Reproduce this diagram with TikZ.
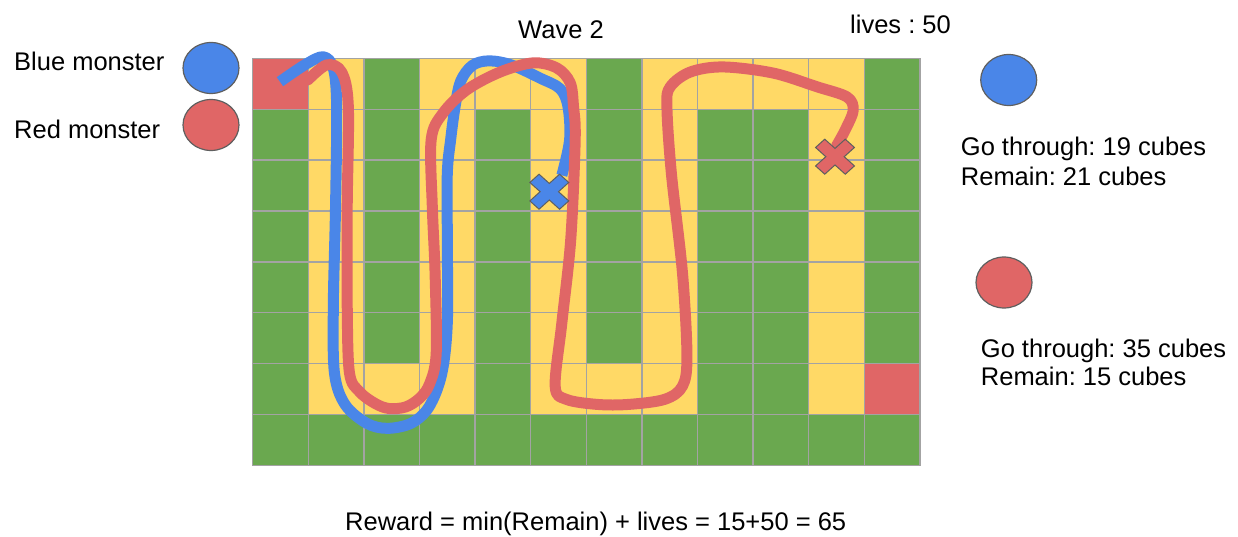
\documentclass[tikz,border=0pt]{standalone}
\usepackage{fontspec}
\setmainfont{Liberation Sans}
\frenchspacing
\usetikzlibrary{%
  calc,%
  shapes.geometric%
}
\definecolor{cellgreen}{HTML}{6AA84F}
\definecolor{cellyellow}{HTML}{FFD966}
\definecolor{cellred}{HTML}{E06666}
\definecolor{monblue}{HTML}{4A86E8}
\definecolor{monred}{HTML}{E06666}
\definecolor{gridgray}{HTML}{A3A3A3}
\definecolor{rimgray}{HTML}{5F5F5F}
\tikzset{
  txt/.style={anchor=base west,inner sep=0pt,font=\fontsize{25.5}{30}\selectfont},
  monster/.style={ellipse,draw=rimgray,line width=1.2pt,minimum width=56pt,minimum height=51pt,inner sep=0pt},
  track/.style={line width=11pt,line join=round},
  xmark/.pic={\filldraw[pic actions,rotate=45] (-6.5,-21) -- (6.5,-21) -- (6.5,-6.5) -- (21,-6.5) -- (21,6.5) --
    (6.5,6.5) -- (6.5,21) -- (-6.5,21) -- (-6.5,6.5) -- (-21,6.5) -- (-21,-6.5) -- (-6.5,-6.5) -- cycle;}
}

\begin{document}
\begin{tikzpicture}[x=1pt,y=-1pt]
  \useasboundingbox (0,0) rectangle (1238,537);
  \begin{scope}[shift={(252.7,58.3)},x=55.6pt,y=-50.9pt]
    \fill[cellgreen] (0,0) rectangle (12,8);
    \foreach \c in {1,3,5,7,10} \fill[cellyellow] (\c,0) rectangle (\c+1,7);
    \foreach \c/\r in {2/6,4/0,6/6,8/0,9/0} \fill[cellyellow] (\c,\r) rectangle ++(1,1);
    \fill[cellred] (0,0) rectangle (1,1);
    \fill[cellred] (11,6) rectangle (12,7);
    \foreach \i in {0,...,12} \draw[gridgray,line width=1.3pt] (\i,0) -- (\i,8);
    \foreach \j in {0,...,8} \draw[gridgray,line width=1.3pt] (0,\j) -- (12,\j);
    \draw[track,monblue] plot[smooth,tension=0.55] coordinates {(0.49,0.46) (0.95,0.12) (1.27,-0.03)
      (1.45,0.2) (1.51,0.95) (1.49,2.91) (1.45,4.87) (1.47,6.18) (1.66,6.8) (2.05,7.17) (2.42,7.27)
      (2.85,7.17) (3.17,6.85) (3.4,6.2) (3.5,5.2) (3.5,3.56) (3.5,2.26) (3.56,1.6) (3.64,0.95)
      (3.74,0.45) (3.95,0.14) (4.25,0.05) (4.65,0.13) (5.17,0.39) (5.53,0.6) (5.67,0.95) (5.7,1.6)
      (5.56,2.3)};
    \draw[track,monred,line cap=round] plot[smooth,tension=0.55] coordinates {(0.99,0.43) (1.33,0.13)
      (1.6,0.27) (1.72,0.95) (1.7,2.91) (1.7,4.87) (1.74,6.18) (1.92,6.55) (2.2,6.78) (2.45,6.88)
      (2.75,6.85) (3.0,6.68) (3.18,6.4) (3.3,5.8) (3.28,4.22) (3.23,2.91) (3.21,1.6) (3.42,1.08)
      (3.85,0.62) (4.45,0.27) (5.04,0.09) (5.47,0.19) (5.71,0.48) (5.77,0.95) (5.8,1.6) (5.72,3.56)
      (5.56,5.2) (5.44,6.44) (5.64,6.7) (6.2,6.8) (6.76,6.8) (7.41,6.7) (7.73,6.44) (7.81,5.85)
      (7.73,4.22) (7.53,2.26) (7.45,0.95) (7.51,0.56) (7.87,0.27) (8.46,0.17) (9.36,0.29)
      (10.15,0.56) (10.69,0.76) (10.8,1.02) (10.66,1.4) (10.5,1.72)};
  \end{scope}
  \pic[fill=monblue,draw=rimgray,line width=1pt,yscale=0.9] (bluestop) at (549.3,191.7) {xmark};
  \pic[fill=monred,draw=rimgray,line width=1pt,yscale=0.9] (redstop) at (835,156.7) {xmark};

  \node[txt] (bluename) at (14,70.5) {Blue monster};
  \node[txt] (redname) at (14,138.5) {Red monster};
  \node[monster,fill=monblue] (blueleft) at (211,68) {};
  \node[monster,fill=monred] (redleft) at (211,125) {};
  \node[txt] (wave) at (518,39) {Wave 2};
  \node[txt] (lives) at (850,34) {lives : 50};
  \node[monster,fill=monblue] (blueright) at (1008.7,80) {};
  \node[txt] (bluego) at (960.7,155.5) {Go through: 19 cubes};
  \node[txt] (bluerem) at (960.7,185.5) {Remain: 21 cubes};
  \node[monster,fill=monred] (redright) at (1004,282.5) {};
  \node[txt] (redgo) at (980.7,357) {Go through: 35 cubes};
  \node[txt] (redrem) at (980.7,385.5) {Remain: 15 cubes};
  \node[txt] (reward) at (345,530) {Reward = min(Remain) + lives = 15+50 = 65};
\end{tikzpicture}
\end{document}
